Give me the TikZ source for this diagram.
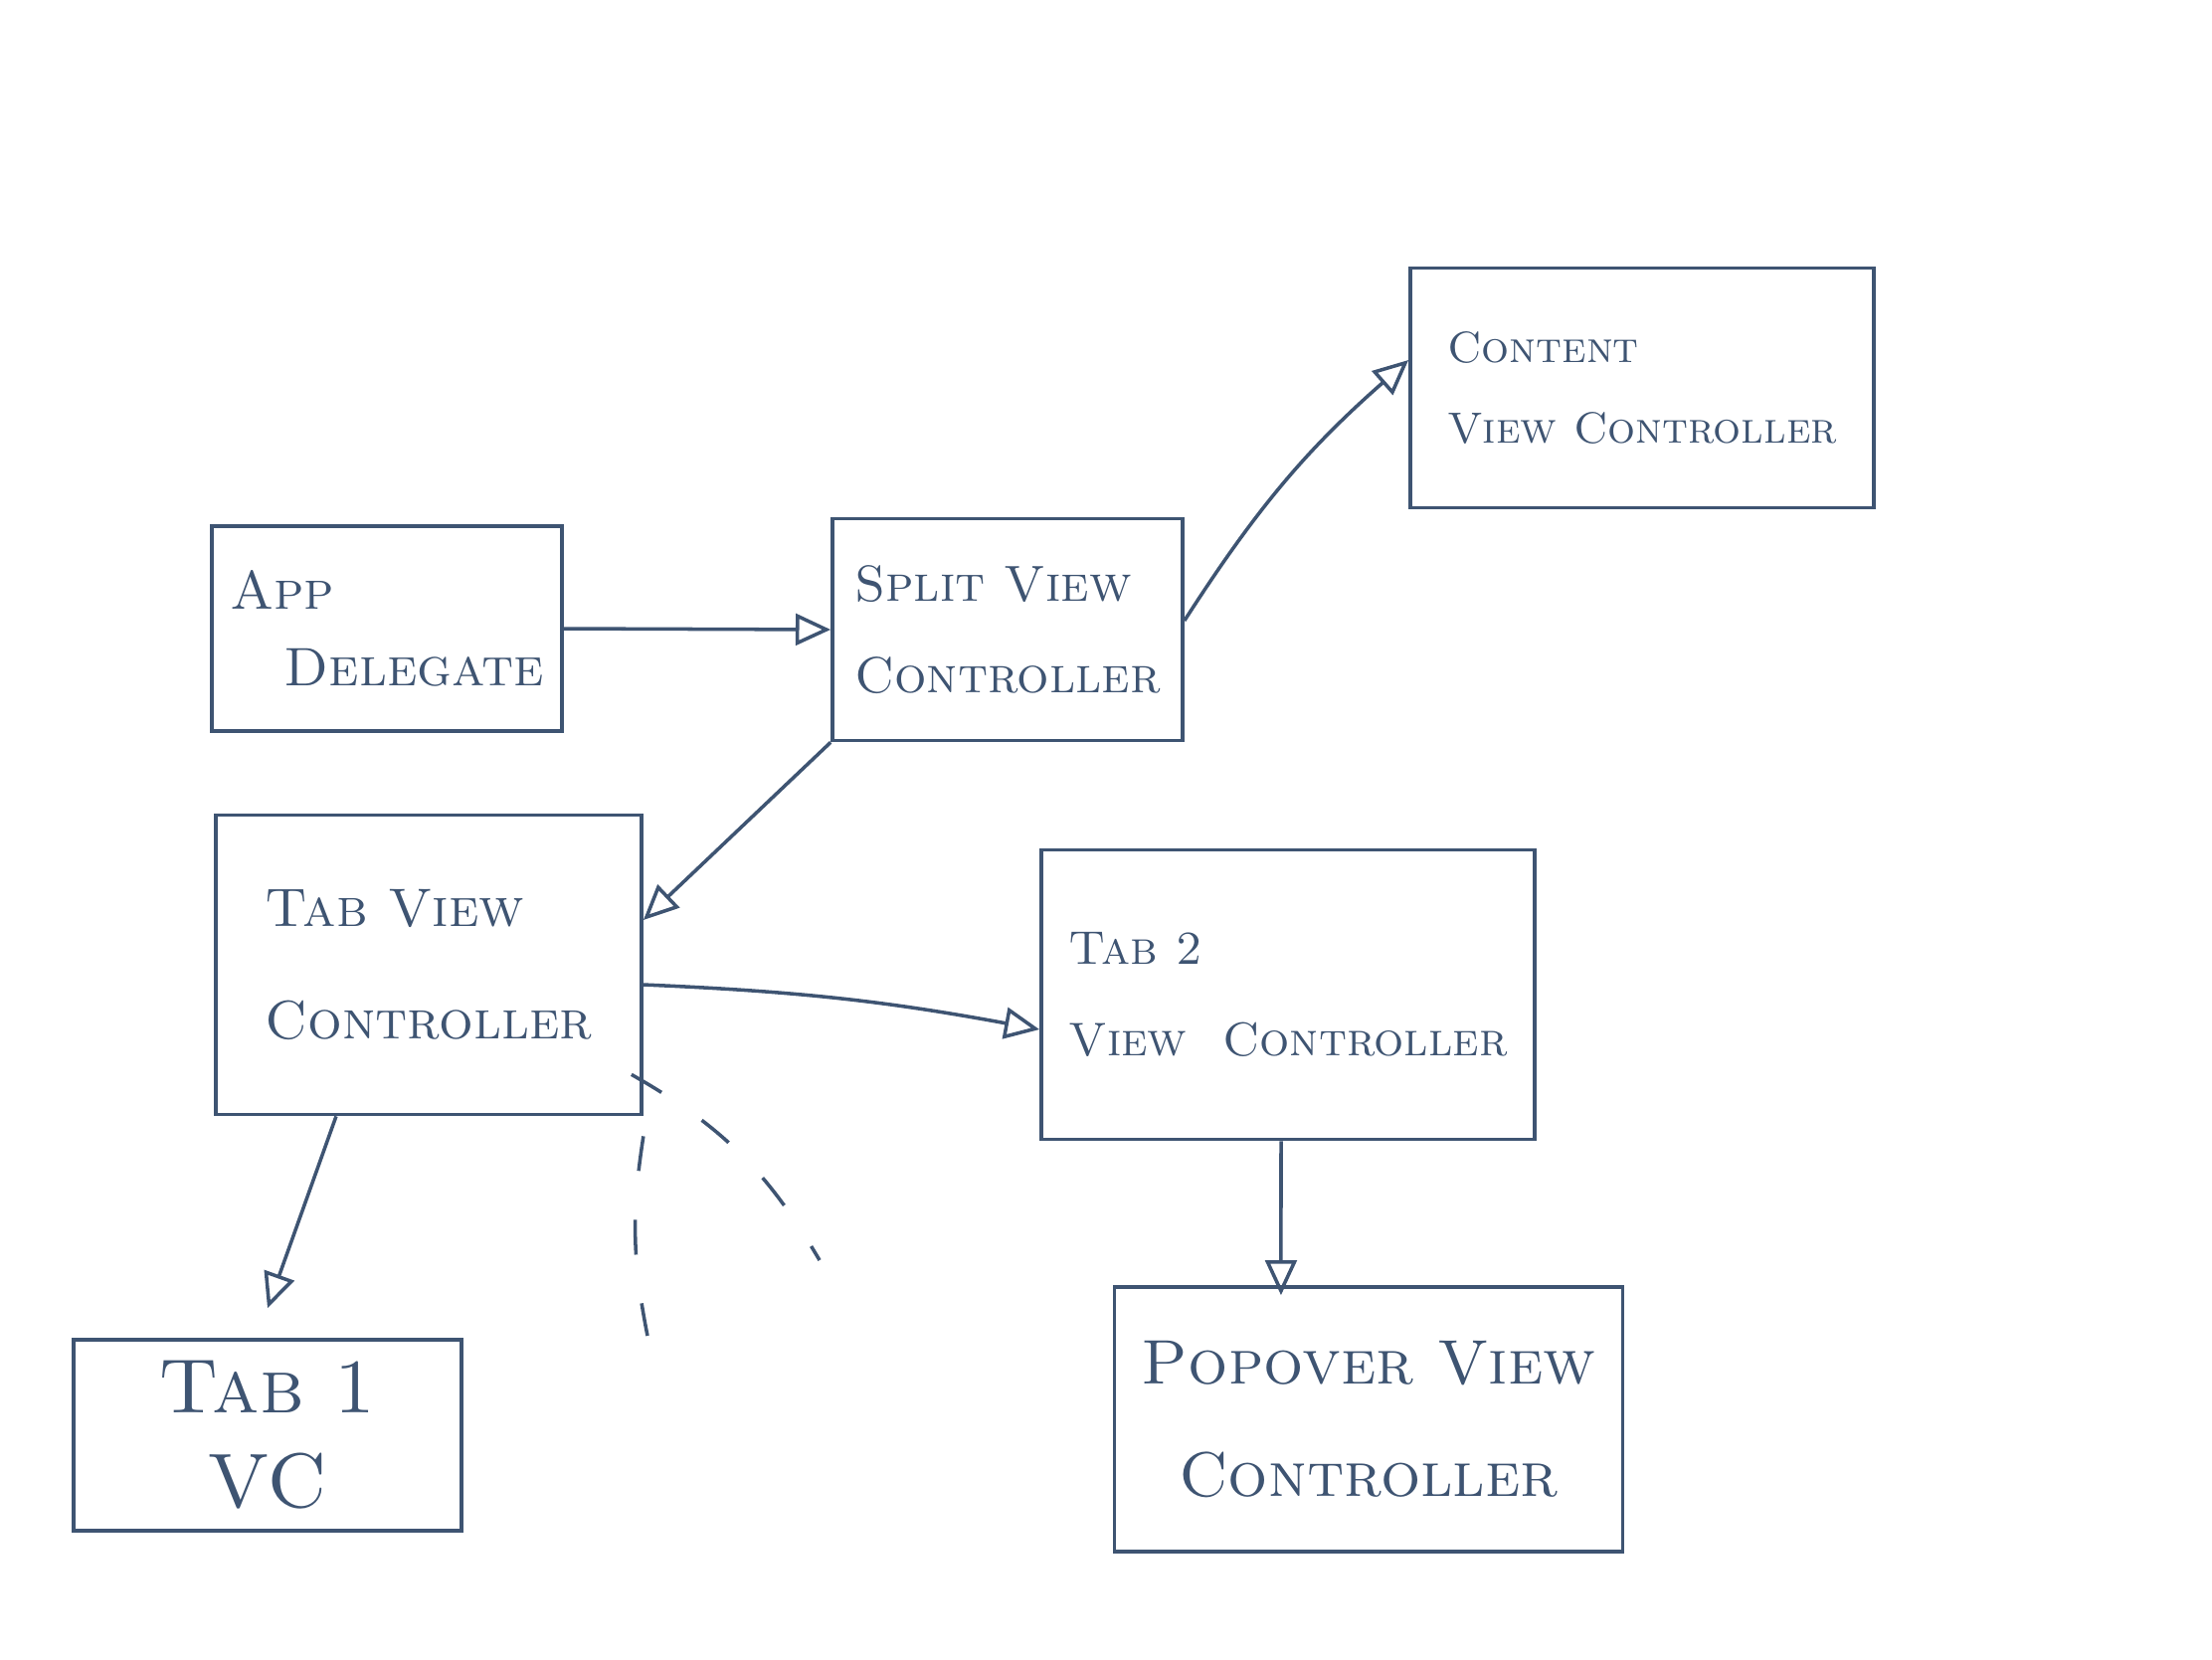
\documentclass[tikz,border=0pt]{standalone}
\usepackage{tikz}
\usetikzlibrary{arrows.meta}
\definecolor{ink}{HTML}{3E5472}

\begin{document}
\begin{tikzpicture}[x=0.01cm,y=-0.01cm,line width=1pt,draw=ink,
	>={Triangle[open,length=10pt,width=9pt]},
	semithick]
	\tikzset{box/.style={draw=ink,line width=1pt,text=ink,align=left,
		font=\fontsize{15}{26}\selectfont\scshape,inner sep=4pt}}
	\tikzset{link/.style={->,ink,line width=1pt}}
	\tikzset{more/.style={ink,line width=1pt,dash pattern=on 10pt off 14pt}}
	\useasboundingbox[fill=white] (0,0) rectangle (2224,1668);
	\node[box,minimum width=3.52cm,minimum height=2.06cm,font=\fontsize{15.5}{22}\selectfont\scshape] (app) at (389,632) {App\\\quad Delegate};
	\node[box,minimum width=3.52cm,minimum height=2.23cm,font=\fontsize{14.5}{26}\selectfont\scshape] (split) at (1013,633) {Split View\\Controller};
	\node[box,minimum width=4.66cm,minimum height=2.41cm,font=\fontsize{12.5}{23}\selectfont\scshape] (content) at (1651,390) {Content\\View Controller};
	\node[box,minimum width=4.28cm,minimum height=3.01cm,font=\fontsize{15.5}{32}\selectfont\scshape] (tabvc) at (431,970) {Tab View\\Controller};
	\node[box,minimum width=4.96cm,minimum height=2.91cm,font=\fontsize{13.5}{26}\selectfont\scshape] (tabtwo) at (1295,1000) {Tab 2\\View \ Controller};
	\node[box,minimum width=3.90cm,minimum height=1.92cm,align=center,font=\fontsize{22}{27}\selectfont\scshape] (tabone) at (269,1443) {Tab 1\\VC};
	\node[box,minimum width=5.11cm,minimum height=2.66cm,align=center,font=\fontsize{18}{32}\selectfont\scshape] (popover) at (1376,1427) {Popover View\\Controller};
	
	\coordinate (corner) at (tabvc.south east);
	\coordinate (leftend) at (651,1343);
	\coordinate (rightend) at (824,1267);
	
	\draw[link] (app.east) -- (split.west);
	\draw[link] ([yshift=0.09cm]split.east) to[bend left=8] ([yshift=0.28cm]content.west);
	\draw[link] (split.south west) -- ([yshift=0.45cm]tabvc.east);
	\draw[link] ([yshift=-0.2cm]tabvc.east) to[bend left=4] ([yshift=-0.35cm]tabtwo.west);
	\draw[link] ([xshift=-0.93cm]tabvc.south) -- ([yshift=0.3cm]tabone.north);
	\draw[link] ([xshift=-0.07cm]tabtwo.south) -- ([xshift=-0.88cm,yshift=-0.1cm]popover.north);
	\draw[more] ([yshift=-0.2cm]corner) to[bend right=10] (leftend);
	\draw[more] ([xshift=-0.12cm,yshift=0.42cm]corner) to[bend left=15] (rightend);
\end{tikzpicture}
\end{document}
